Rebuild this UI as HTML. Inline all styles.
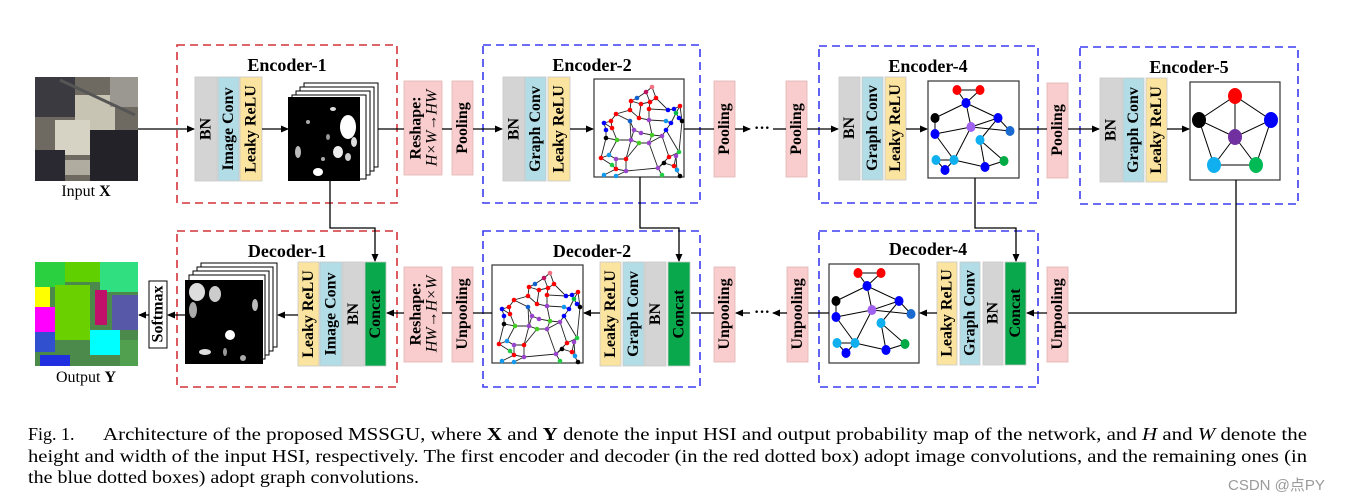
<!DOCTYPE html>
<html><head><meta charset="utf-8"><style>
html,body{margin:0;padding:0;background:#fff;}
svg{display:block;}
text{font-family:"Liberation Serif",serif;}
.t{font-weight:bold;font-size:18px;}
.b{font-weight:bold;font-size:16px;}
</style></head><body>
<svg width="1351" height="502" viewBox="0 0 1351 502" xmlns="http://www.w3.org/2000/svg">
<defs>
<marker id="ah" markerWidth="8" markerHeight="8" refX="7" refY="4" orient="auto" markerUnits="userSpaceOnUse">
<path d="M0,0.5 L8,4 L0,7.5 Z" fill="#000"/></marker>
<g id="dg">
<g stroke="#222" stroke-width="0.9" fill="none">
<polyline points="58,9 52,14 43,20 37,23 36,32 22,36 17,43 10,45 12,52 12,60 23,62 15,77 7,80 18,87 22,91 10,97"/>
<polyline points="52,14 56,24 62,20 58,9"/>
<polyline points="37,23 47,26 56,24 55,31 74,32 80,31 86,28 82,35 85,40 88,43 85,74 82,78 80,88 86,98"/>
<polyline points="36,32 45,40 55,42 72,43 77,45 72,52 68,58 58,57 47,55 40,52 36,43 22,36"/>
<polyline points="18,50 23,62 37,62 45,65 55,65 68,58 75,79 64,90 70,85 80,88"/>
<polyline points="36,43 37,62 32,81 22,81 15,77"/>
<polyline points="45,40 47,26"/><polyline points="55,31 55,42 58,57 55,65"/>
<polyline points="40,52 37,62"/><polyline points="45,65 32,81 32,93 22,98"/>
<polyline points="32,93 64,90 68,97"/><polyline points="55,65 64,90"/>
<polyline points="72,52 85,74 75,79"/><polyline points="77,45 82,35"/>
<polyline points="10,45 18,50 17,43"/><polyline points="22,81 22,91 32,93"/>
<polyline points="12,60 7,80"/><polyline points="82,78 83,92"/><polyline points="86,28 88,43"/>
<polyline points="62,20 74,32"/>
</g>
<g>
<circle cx="58" cy="9" r="2.3" fill="#f07080"/><circle cx="52" cy="14" r="2.3" fill="#c01060"/>
<circle cx="43" cy="20" r="2.3" fill="#1060d0"/><circle cx="37" cy="23" r="2.3" fill="#f00"/>
<circle cx="47" cy="26" r="2.3" fill="#f00"/><circle cx="56" cy="24" r="2.3" fill="#f00"/>
<circle cx="62" cy="20" r="2.3" fill="#f00"/><circle cx="36" cy="32" r="2.3" fill="#f00"/>
<circle cx="55" cy="31" r="2.3" fill="#f00"/><circle cx="86" cy="28" r="2.3" fill="#f00"/>
<circle cx="80" cy="31" r="2.3" fill="#00f"/><circle cx="74" cy="32" r="2.3" fill="#00f"/>
<circle cx="82" cy="35" r="2.3" fill="#0b4"/><circle cx="85" cy="40" r="2.3" fill="#00f"/>
<circle cx="88" cy="43" r="2.3" fill="#000"/><circle cx="72" cy="43" r="2.3" fill="#19e"/>
<circle cx="77" cy="45" r="2.3" fill="#00f"/><circle cx="22" cy="36" r="2.3" fill="#f00"/>
<circle cx="17" cy="43" r="2.3" fill="#f00"/><circle cx="10" cy="45" r="2.3" fill="#00f"/>
<circle cx="12" cy="52" r="2.3" fill="#00f"/><circle cx="18" cy="50" r="2.3" fill="#f00"/>
<circle cx="12" cy="60" r="2.3" fill="#000"/><circle cx="36" cy="43" r="2.3" fill="#1060d0"/>
<circle cx="45" cy="40" r="2.3" fill="#f00"/><circle cx="55" cy="42" r="2.3" fill="#94c"/>
<circle cx="40" cy="52" r="2.3" fill="#94c"/><circle cx="47" cy="55" r="2.3" fill="#94c"/>
<circle cx="58" cy="57" r="2.3" fill="#4c2"/><circle cx="23" cy="62" r="2.3" fill="#4c2"/>
<circle cx="37" cy="62" r="2.3" fill="#94c"/><circle cx="45" cy="65" r="2.3" fill="#4c2"/>
<circle cx="55" cy="65" r="2.3" fill="#94c"/><circle cx="68" cy="58" r="2.3" fill="#94c"/>
<circle cx="72" cy="52" r="2.3" fill="#00f"/><circle cx="85" cy="74" r="2.3" fill="#2c4"/>
<circle cx="75" cy="79" r="2.3" fill="#f00"/><circle cx="82" cy="78" r="2.3" fill="#94c"/>
<circle cx="7" cy="80" r="2.3" fill="#f00"/><circle cx="15" cy="77" r="2.3" fill="#19e"/>
<circle cx="22" cy="81" r="2.3" fill="#94c"/><circle cx="32" cy="81" r="2.3" fill="#f00"/>
<circle cx="18" cy="87" r="2.3" fill="#2c4"/><circle cx="22" cy="91" r="2.3" fill="#f00"/>
<circle cx="10" cy="97" r="2.3" fill="#19e"/><circle cx="22" cy="98" r="2.3" fill="#19e"/>
<circle cx="32" cy="93" r="2.3" fill="#94c"/><circle cx="64" cy="90" r="2.3" fill="#94c"/>
<circle cx="70" cy="85" r="2.3" fill="#000"/><circle cx="80" cy="88" r="2.3" fill="#f00"/>
<circle cx="68" cy="97" r="2.3" fill="#2c4"/><circle cx="83" cy="92" r="2.3" fill="#19e"/>
<circle cx="86" cy="98" r="2.3" fill="#000"/>
</g></g>
<g id="mg">
<g stroke="#000" stroke-width="1" fill="none">
<line x1="29" y1="9" x2="52" y2="9"/><line x1="29" y1="9" x2="38" y2="22"/><line x1="52" y1="9" x2="38" y2="22"/>
<line x1="38" y1="22" x2="7" y2="37"/><line x1="38" y1="22" x2="43" y2="46"/><line x1="38" y1="22" x2="70" y2="37"/>
<line x1="7" y1="37" x2="7" y2="53"/><line x1="7" y1="53" x2="43" y2="46"/><line x1="43" y1="46" x2="70" y2="37"/>
<line x1="70" y1="37" x2="82" y2="50"/><line x1="70" y1="37" x2="52" y2="59"/><line x1="43" y1="46" x2="82" y2="50"/>
<line x1="7" y1="53" x2="26" y2="79"/><line x1="43" y1="46" x2="26" y2="79"/><line x1="8" y1="79" x2="26" y2="79"/>
<line x1="8" y1="79" x2="17" y2="89"/><line x1="26" y1="79" x2="17" y2="89"/><line x1="26" y1="79" x2="57" y2="86"/>
<line x1="52" y1="59" x2="57" y2="86"/><line x1="52" y1="59" x2="76" y2="80"/><line x1="57" y1="86" x2="76" y2="80"/>
</g>
<ellipse cx="29" cy="9" rx="4.5" ry="5" fill="#f00"/><ellipse cx="52" cy="9" rx="4.5" ry="5" fill="#f00"/>
<ellipse cx="38" cy="22" rx="4.5" ry="5" fill="#00f"/><ellipse cx="7" cy="37" rx="4.5" ry="5" fill="#000"/>
<ellipse cx="7" cy="53" rx="4.5" ry="5" fill="#00f"/><ellipse cx="43" cy="46" rx="4.5" ry="5" fill="#a060f0"/>
<ellipse cx="70" cy="37" rx="4.5" ry="5" fill="#00f"/><ellipse cx="82" cy="50" rx="4.5" ry="5" fill="#1a6ad0"/>
<ellipse cx="52" cy="59" rx="4.5" ry="5" fill="#10b0f0"/><ellipse cx="8" cy="79" rx="4.5" ry="5" fill="#10b0f0"/>
<ellipse cx="26" cy="79" rx="4.5" ry="5" fill="#10b0f0"/><ellipse cx="17" cy="89" rx="4.5" ry="5" fill="#00f"/>
<ellipse cx="57" cy="86" rx="4.5" ry="5" fill="#00f"/><ellipse cx="76" cy="80" rx="4.5" ry="5" fill="#0a4"/>
</g>
<g id="fm1">
<rect x="0" y="0" width="72" height="84" fill="#000"/>
<ellipse cx="60" cy="30" rx="8" ry="12" fill="#fff"/><ellipse cx="50" cy="55" rx="5" ry="6" fill="#eee"/>
<ellipse cx="30" cy="75" rx="5" ry="4" fill="#fff"/><ellipse cx="45" cy="12" rx="3" ry="2" fill="#ddd"/>
<ellipse cx="10" cy="55" rx="3" ry="6" fill="#bbb"/><ellipse cx="40" cy="40" rx="2" ry="3" fill="#999"/>
<ellipse cx="20" cy="25" rx="2" ry="2" fill="#aaa"/><ellipse cx="60" cy="60" rx="3" ry="4" fill="#ccc"/>
<ellipse cx="66" cy="45" rx="3" ry="5" fill="#ddd"/><ellipse cx="35" cy="62" rx="2" ry="2" fill="#aaa"/>
</g>
</defs>

<g fill="none" stroke-width="1.6" stroke-dasharray="8,5">
<rect x="177" y="45" width="220" height="158" stroke="#d3333a"/>
<rect x="483" y="45" width="217" height="158" stroke="#3b3bf0"/>
<rect x="819" y="46" width="219" height="157" stroke="#3b3bf0"/>
<rect x="1080" y="47" width="218" height="157" stroke="#3b3bf0"/>
<rect x="177" y="231" width="220" height="156" stroke="#d3333a"/>
<rect x="483" y="231" width="217" height="156" stroke="#3b3bf0"/>
<rect x="819" y="231" width="219" height="156" stroke="#3b3bf0"/>
</g>

<g text-anchor="middle">
<text x="287" y="71" class="t">Encoder-1</text>
<text x="592" y="71" class="t">Encoder-2</text>
<text x="928" y="72" class="t">Encoder-4</text>
<text x="1189" y="73" class="t">Encoder-5</text>
<text x="287" y="257" class="t">Decoder-1</text>
<text x="592" y="257" class="t">Decoder-2</text>
<text x="928" y="255" class="t">Decoder-4</text>
</g>

<g>
<rect x="35" y="77" width="103" height="104" fill="#6e6a62"/>
<rect x="35" y="77" width="40" height="40" fill="#3a3a40"/>
<rect x="75" y="95" width="40" height="50" fill="#c8c4b4"/>
<rect x="55" y="120" width="35" height="35" fill="#d6d2c4"/>
<rect x="90" y="130" width="48" height="51" fill="#222228"/>
<rect x="35" y="150" width="30" height="31" fill="#2a2830"/>
<rect x="110" y="77" width="28" height="30" fill="#9a9890"/>
<rect x="65" y="160" width="25" height="15" fill="#b0aca0"/>
<line x1="60" y1="80" x2="135" y2="115" stroke="#555" stroke-width="3"/>
</g>
<text x="86" y="196" font-size="16" text-anchor="middle">Input <tspan font-weight="bold">X</tspan></text>

<g>
<rect x="35" y="262" width="103" height="104" fill="#4c8a4c"/>
<rect x="35" y="262" width="30" height="25" fill="#2ad040"/>
<rect x="65" y="262" width="35" height="20" fill="#60d000"/>
<rect x="100" y="262" width="38" height="30" fill="#30e080"/>
<rect x="35" y="287" width="15" height="20" fill="#ffff00"/>
<rect x="35" y="307" width="20" height="25" fill="#ff00ff"/>
<rect x="55" y="285" width="35" height="55" fill="#6ad000"/>
<rect x="95" y="290" width="12" height="35" fill="#c0106a"/>
<rect x="90" y="330" width="30" height="25" fill="#00ffff"/>
<rect x="35" y="332" width="20" height="20" fill="#3050d0"/>
<rect x="112" y="295" width="26" height="35" fill="#5858a8"/>
<rect x="40" y="355" width="30" height="11" fill="#2030e0"/>
<rect x="120" y="340" width="18" height="26" fill="#50a050"/>
</g>
<text x="86" y="382" font-size="16" text-anchor="middle">Output <tspan font-weight="bold">Y</tspan></text>

<g stroke="#c8c8c8" stroke-width="0.8">
<rect x="195" y="77" width="22" height="104" fill="#d4d4d4"/>
<rect x="218" y="77" width="21" height="104" fill="#b2dce6"/>
<rect x="240" y="77" width="22" height="104" fill="#fbe3a0"/>
<rect x="503" y="77" width="22" height="104" fill="#d4d4d4"/>
<rect x="525" y="77" width="21" height="104" fill="#b2dce6"/>
<rect x="548" y="77" width="22" height="104" fill="#fbe3a0"/>
<rect x="839" y="77" width="21" height="103" fill="#d4d4d4"/>
<rect x="862" y="77" width="21" height="103" fill="#b2dce6"/>
<rect x="885" y="77" width="21" height="103" fill="#fbe3a0"/>
<rect x="1100" y="78" width="22" height="104" fill="#d4d4d4"/>
<rect x="1123" y="78" width="21" height="104" fill="#b2dce6"/>
<rect x="1146" y="78" width="21" height="104" fill="#fbe3a0"/>
<rect x="298" y="262" width="21" height="104" fill="#fbe3a0"/>
<rect x="320" y="262" width="22" height="104" fill="#b2dce6"/>
<rect x="343" y="262" width="21" height="104" fill="#d4d4d4"/>
<rect x="365" y="262" width="21" height="104" fill="#0aa84c"/>
<rect x="600" y="262" width="21" height="104" fill="#fbe3a0"/>
<rect x="623" y="262" width="21" height="104" fill="#b2dce6"/>
<rect x="645" y="262" width="21" height="104" fill="#d4d4d4"/>
<rect x="668" y="262" width="22" height="104" fill="#0aa84c"/>
<rect x="937" y="262" width="20" height="103" fill="#fbe3a0"/>
<rect x="960" y="262" width="20" height="103" fill="#b2dce6"/>
<rect x="983" y="262" width="20" height="103" fill="#d4d4d4"/>
<rect x="1005" y="262" width="21" height="103" fill="#0aa84c"/>
</g>
<g fill="#f9cdcd" stroke="#e2b4b4" stroke-width="0.8">
<rect x="404" y="81" width="38" height="94"/>
<rect x="452" y="81" width="21" height="94"/>
<rect x="714" y="81" width="21" height="96"/>
<rect x="786" y="81" width="21" height="96"/>
<rect x="1047" y="83" width="21" height="95"/>
<rect x="404" y="267" width="38" height="95"/>
<rect x="452" y="267" width="21" height="95"/>
<rect x="714" y="267" width="21" height="95"/>
<rect x="787" y="267" width="21" height="95"/>
<rect x="1047" y="267" width="21" height="95"/>
</g>
<rect x="149" y="281" width="18" height="67" fill="#fff" stroke="#000" stroke-width="1"/>

<g class="b" text-anchor="middle" dominant-baseline="central">
<text transform="translate(206,129) rotate(-90)">BN</text>
<text transform="translate(228.5,129) rotate(-90)">Image Conv</text>
<text transform="translate(251,129) rotate(-90)">Leaky ReLU</text>
<text transform="translate(514,129) rotate(-90)">BN</text>
<text transform="translate(535.5,129) rotate(-90)">Graph Conv</text>
<text transform="translate(559,129) rotate(-90)">Leaky ReLU</text>
<text transform="translate(849.5,128) rotate(-90)">BN</text>
<text transform="translate(872.5,128) rotate(-90)">Graph Conv</text>
<text transform="translate(895.5,128) rotate(-90)">Leaky ReLU</text>
<text transform="translate(1111,130) rotate(-90)">BN</text>
<text transform="translate(1133.5,130) rotate(-90)">Graph Conv</text>
<text transform="translate(1156.5,130) rotate(-90)">Leaky ReLU</text>
<text transform="translate(308.5,314) rotate(-90)">Leaky ReLU</text>
<text transform="translate(331,314) rotate(-90)">Image Conv</text>
<text transform="translate(353.5,314) rotate(-90)">BN</text>
<text transform="translate(375.5,314) rotate(-90)">Concat</text>
<text transform="translate(610.5,314) rotate(-90)">Leaky ReLU</text>
<text transform="translate(633.5,314) rotate(-90)">Graph Conv</text>
<text transform="translate(655.5,314) rotate(-90)">BN</text>
<text transform="translate(679,314) rotate(-90)">Concat</text>
<text transform="translate(947,313) rotate(-90)">Leaky ReLU</text>
<text transform="translate(970,313) rotate(-90)">Graph Conv</text>
<text transform="translate(993,313) rotate(-90)">BN</text>
<text transform="translate(1015.5,313) rotate(-90)">Concat</text>
<text transform="translate(462.5,128) rotate(-90)">Pooling</text>
<text transform="translate(724.5,129) rotate(-90)">Pooling</text>
<text transform="translate(796.5,129) rotate(-90)">Pooling</text>
<text transform="translate(1057.5,130) rotate(-90)">Pooling</text>
<text transform="translate(462.5,314) rotate(-90)">Unpooling</text>
<text transform="translate(724.5,314) rotate(-90)">Unpooling</text>
<text transform="translate(797.5,314) rotate(-90)">Unpooling</text>
<text transform="translate(1057.5,314) rotate(-90)">Unpooling</text>
<text transform="translate(158,314) rotate(-90)">Softmax</text>
<text transform="translate(416,128) rotate(-90)">Reshape:</text>
<text transform="translate(416,314) rotate(-90)">Reshape:</text>
</g>
<g font-size="16" font-style="italic" text-anchor="middle" dominant-baseline="central">
<text transform="translate(432,128) rotate(-90)">H×W→HW</text>
<text transform="translate(432,314) rotate(-90)">HW→H×W</text>
</g>

<g stroke="#000" stroke-width="1" fill="#fff">
<rect x="304" y="83" width="74" height="84"/><rect x="300" y="87" width="74" height="84"/>
<rect x="296" y="91" width="74" height="84"/><rect x="292" y="95" width="74" height="84"/>
<rect x="201" y="263" width="76" height="84"/><rect x="197" y="267" width="76" height="84"/>
<rect x="193" y="271" width="76" height="84"/><rect x="189" y="275" width="76" height="84"/>
</g>
<use href="#fm1" transform="translate(288,97)"/>
<g transform="translate(185,280)">
<rect x="0" y="0" width="78" height="84" fill="#000"/>
<ellipse cx="12" cy="12" rx="8" ry="9" fill="#ddd"/><ellipse cx="30" cy="14" rx="6" ry="8" fill="#ccc"/>
<ellipse cx="8" cy="30" rx="4" ry="8" fill="#aaa"/><ellipse cx="45" cy="55" rx="5" ry="5" fill="#fff"/>
<ellipse cx="20" cy="72" rx="6" ry="3" fill="#ddd"/><ellipse cx="70" cy="25" rx="3" ry="6" fill="#bbb"/>
<ellipse cx="40" cy="72" rx="2" ry="4" fill="#999"/><ellipse cx="58" cy="78" rx="3" ry="3" fill="#aaa"/>
</g>

<g fill="#fff" stroke="#333" stroke-width="1.2">
<rect x="594" y="79" width="90" height="98"/>
<rect x="928" y="81" width="91" height="97"/>
<rect x="1190" y="82" width="90" height="98"/>
<rect x="492" y="265" width="91" height="98"/>
<rect x="829" y="264" width="90" height="99"/>
</g>
<use href="#dg" transform="translate(594,78)"/>
<use href="#dg" transform="translate(492,264)"/>
<use href="#mg" transform="translate(928,81)"/>
<use href="#mg" transform="translate(829,264)"/>
<g transform="translate(1190,82)">
<g stroke="#000" stroke-width="1" fill="none">
<polygon points="45,14 9,38 24,83 66,83 81,38"/>
<line x1="45" y1="14" x2="45" y2="55"/><line x1="9" y1="38" x2="45" y2="55"/>
<line x1="81" y1="38" x2="45" y2="55"/><line x1="24" y1="83" x2="45" y2="55"/><line x1="66" y1="83" x2="45" y2="55"/>
</g>
<ellipse cx="45" cy="14" rx="7" ry="8" fill="#f00"/><ellipse cx="9" cy="38" rx="7" ry="8" fill="#000"/>
<ellipse cx="81" cy="38" rx="7" ry="8" fill="#00f"/><ellipse cx="45" cy="55" rx="7" ry="8" fill="#7030a0"/>
<ellipse cx="24" cy="83" rx="7" ry="8" fill="#10b0f0"/><ellipse cx="66" cy="83" rx="7" ry="8" fill="#0b5"/>
</g>

<g stroke="#000" stroke-width="1.3" fill="none">
<line x1="138" y1="129" x2="194" y2="129" marker-end="url(#ah)"/>
<line x1="262" y1="129" x2="288" y2="129" marker-end="url(#ah)"/>
<line x1="378" y1="129" x2="404" y2="129"/>
<line x1="442" y1="129" x2="452" y2="129"/>
<line x1="473" y1="129" x2="502" y2="129" marker-end="url(#ah)"/>
<line x1="570" y1="129" x2="593" y2="129" marker-end="url(#ah)"/>
<line x1="684" y1="129" x2="714" y2="129"/>
<line x1="735" y1="129" x2="750" y2="129" marker-end="url(#ah)"/>
<line x1="773" y1="129" x2="786" y2="129"/>
<line x1="807" y1="129" x2="838" y2="129" marker-end="url(#ah)"/>
<line x1="906" y1="129" x2="927" y2="129" marker-end="url(#ah)"/>
<line x1="1019" y1="129" x2="1047" y2="129"/>
<line x1="1068" y1="129" x2="1099" y2="129" marker-end="url(#ah)"/>
<line x1="1167" y1="129" x2="1189" y2="129" marker-end="url(#ah)"/>
<polyline points="330,179 330,228 375,228 375,261" marker-end="url(#ah)"/>
<polyline points="640,177 640,228 679,228 679,261" marker-end="url(#ah)"/>
<polyline points="975,178 975,228 1016,228 1016,261" marker-end="url(#ah)"/>
<polyline points="1236,180 1236,313 1068,313"/>
<line x1="1047" y1="313" x2="1027" y2="313" marker-end="url(#ah)"/>
<line x1="937" y1="313" x2="920" y2="313" marker-end="url(#ah)"/>
<line x1="829" y1="313" x2="808" y2="313"/>
<line x1="787" y1="313" x2="773" y2="313" marker-end="url(#ah)"/>
<line x1="750" y1="313" x2="736" y2="313" marker-end="url(#ah)"/>
<line x1="714" y1="313" x2="691" y2="313"/>
<line x1="600" y1="313" x2="584" y2="313" marker-end="url(#ah)"/>
<line x1="492" y1="313" x2="473" y2="313"/>
<line x1="452" y1="313" x2="442" y2="313"/>
<line x1="404" y1="313" x2="387" y2="313" marker-end="url(#ah)"/>
<line x1="298" y1="315" x2="278" y2="315" marker-end="url(#ah)"/>
<line x1="185" y1="315" x2="168" y2="315" marker-end="url(#ah)"/>
<line x1="149" y1="315" x2="139" y2="315" marker-end="url(#ah)"/>
</g>
<g font-size="16" font-weight="bold" text-anchor="middle">
<text x="762" y="133">···</text>
<text x="762" y="317">···</text>
</g>

<g font-size="18">
<text x="28" y="440">Fig. 1.</text>
<text x="103" y="440" textLength="1204" lengthAdjust="spacingAndGlyphs">Architecture of the proposed MSSGU, where <tspan font-weight="bold">X</tspan> and <tspan font-weight="bold">Y</tspan> denote the input HSI and output probability map of the network, and <tspan font-style="italic">H</tspan> and <tspan font-style="italic">W</tspan> denote the</text>
<text x="28" y="462" textLength="1279" lengthAdjust="spacingAndGlyphs">height and width of the input HSI, respectively. The first encoder and decoder (in the red dotted box) adopt image convolutions, and the remaining ones (in</text>
<text x="28" y="483" textLength="391" lengthAdjust="spacingAndGlyphs">the blue dotted boxes) adopt graph convolutions.</text>
</g>
<text x="1228" y="490" font-size="15" fill="#9a9a9a" style="font-family:'Liberation Sans','Noto Sans CJK SC',sans-serif">CSDN @点PY</text>
</svg>
</body></html>
